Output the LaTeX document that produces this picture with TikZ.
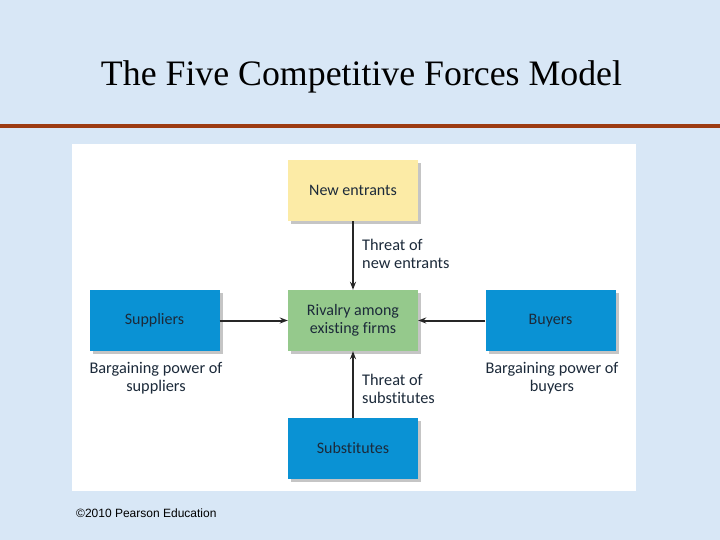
\documentclass[tikz,border=0pt]{standalone}
\usepackage{fontspec}
\setmainfont{Liberation Serif}
\newfontfamily\boxfont[Ligatures=NoCommon]{Carlito}
\newfontfamily\notefont{Liberation Sans}
\usetikzlibrary{shadows,arrows.meta}
\definecolor{slidebg}{HTML}{D8E7F6}
\definecolor{rule}{HTML}{9C3B12}
\definecolor{yellowbox}{HTML}{FCEBA6}
\definecolor{greenbox}{HTML}{95C98C}
\definecolor{bluebox}{HTML}{0A92D4}
\definecolor{boxtext}{HTML}{1C2A3A}
\begin{document}
\begin{tikzpicture}[x=1pt, y=-1pt,
    force/.style={rectangle, minimum width=130pt, minimum height=61pt, inner sep=0pt,
        align=center, font=\boxfont\fontsize{16}{18}\selectfont, text=boxtext,
        drop shadow={shadow xshift=3pt, shadow yshift=-3pt, fill=black!45, opacity=0.5}},
    lbl/.style={font=\boxfont\fontsize{16.3}{18}\selectfont, text=boxtext, inner sep=0pt},
    push/.style={-{Stealth[length=8pt, width=6pt]}, line width=2pt, black!85}]
    \useasboundingbox (0,0) rectangle (720,540);
    \fill[slidebg] (0,0) rectangle (720,540);
    \node[font=\fontsize{35.8}{40}\selectfont] (title) at (361.5,77) {The Five Competitive Forces Model};
    \fill[rule] (0,124) rectangle (720,128.5);
    \fill[white] (72,144) rectangle (636,491);

    \node[force, fill=yellowbox] (entrants) at (353,190.5) {New entrants};
    \node[force, fill=greenbox] (rivalry) at (353,320.5) {Rivalry among\\existing firms};
    \node[force, fill=bluebox] (suppliers) at (154.5,320.5) {Suppliers};
    \node[force, fill=bluebox] (buyers) at (550.5,320.5) {Buyers};
    \node[force, fill=bluebox] (substitutes) at (353,448.5) {Substitutes};

    \draw[push] (entrants) -- (rivalry);
    \draw[push] (substitutes) -- (rivalry);
    \draw[push] (suppliers) -- (rivalry);
    \draw[push] (buyers) -- (rivalry);

    \node[lbl, align=left, anchor=west] (threatnew) at (362,254) {Threat of\\new entrants};
    \node[lbl, align=left, anchor=west] (threatsub) at (362,389) {Threat of\\substitutes};
    \node[lbl, align=center] (powersup) at (156,378) {Bargaining power of\\suppliers};
    \node[lbl, align=center] (powerbuy) at (552,378) {Bargaining power of\\buyers};

    \node[font=\notefont\fontsize{12}{14}\selectfont, anchor=west, inner sep=0pt] (credit) at (76,513) {\textcopyright2010 Pearson Education};
\end{tikzpicture}
\end{document}
